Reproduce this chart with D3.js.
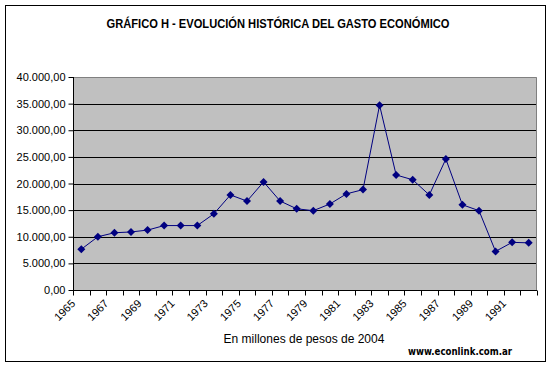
<!DOCTYPE html>
<html><head><meta charset="utf-8">
<script src="https://cdn.jsdelivr.net/npm/d3@7"></script>
<style>body{margin:0;background:#fff}svg{display:block}</style>
</head><body>
<svg id="c" width="553" height="368"></svg>
<script>
const years = d3.range(1965, 1993).map(String);
const values = [7650,10000,10750,10900,11250,12100,12100,12100,14300,17850,16700,20300,16700,15250,14900,16150,18050,18850,34700,21600,20700,17850,24600,16000,14900,7250,8950,8850];
const tickLabels = ["1965","1967","1969","1971","1973","1975","1977","1979","1981","1983","1985","1987","1989","1991"];
const yTicks = [0,5000,10000,15000,20000,25000,30000,35000,40000];
const title = "GRÁFICO H - EVOLUCIÓN HISTÓRICA DEL GASTO ECONÓMICO";
const xTitle = "En millones de pesos de 2004";
const credit = "www.econlink.com.ar";

const svg = d3.select("#c");
const L = 73, R = 537, T = 77, B = 290;
svg.append("rect").attr("x",5.5).attr("y",5.5).attr("width",540).attr("height",356)
  .attr("fill","#fff").attr("stroke","#000").attr("stroke-width",1);

const x = d3.scaleBand().domain(years).range([L,R]);
const y = d3.scaleLinear().domain([0,40000]).range([B,T]);
const fmt = v => d3.format(",.2f")(v).replace(/,/g,"X").replace(/\./g,",").replace(/X/g,".");

svg.append("rect").attr("x",L).attr("y",T).attr("width",R-L).attr("height",B-T).attr("fill","#C0C0C0");
svg.append("path").attr("d",`M${L},${T+0.5}H${R-0.5}V${B}`).attr("fill","none").attr("stroke","#808080");

svg.append("g").selectAll("line").data(yTicks.filter(d=>d>0 && d<40000)).join("line")
  .attr("x1",L).attr("x2",R-1).attr("y1",d=>Math.round(y(d))+0.5).attr("y2",d=>Math.round(y(d))+0.5)
  .attr("stroke","#000");

const ya = svg.append("g").attr("transform",`translate(${L+0.5},0)`)
  .call(d3.axisLeft(y).tickValues(yTicks).tickFormat(fmt).tickSize(5).tickPadding(3));
ya.select(".domain").attr("stroke","#000").attr("d",`M0,${T}V${B}`);
ya.selectAll(".tick line").attr("stroke","#000");
ya.selectAll("text").attr("font-family","Arial, 'Liberation Sans', sans-serif").attr("font-size",11).attr("fill","#000");

const xa = svg.append("g").attr("transform",`translate(0,${B+0.5})`);
xa.append("line").attr("x1",L).attr("x2",R).attr("stroke","#000");
const bounds = years.map(d=>x(d)).concat([R]);
xa.selectAll("line.t").data(bounds).join("line").attr("class","t")
  .attr("x1",d=>Math.round(d)+0.5).attr("x2",d=>Math.round(d)+0.5).attr("y1",0).attr("y2",5).attr("stroke","#000");
xa.selectAll("text").data(tickLabels).join("text")
  .attr("transform",d=>`translate(${x(d)+x.bandwidth()/2-8},${11}) rotate(-45)`)
  .attr("text-anchor","end").attr("dy","0.35em")
  .attr("font-family","Arial, 'Liberation Sans', sans-serif").attr("font-size",11).text(d=>d);

const line = d3.line().x((d,i)=>x(years[i])+x.bandwidth()/2).y(d=>y(d));
svg.append("path").datum(values).attr("d",line).attr("fill","none").attr("stroke","#000080").attr("stroke-width",1);
svg.append("g").selectAll("path").data(values).join("path")
  .attr("transform",(d,i)=>`translate(${x(years[i])+x.bandwidth()/2},${y(d)})`)
  .attr("d","M0,-4L4,0L0,4L-4,0Z").attr("fill","#000080");

svg.append("text").attr("x",278).attr("y",27.5).attr("text-anchor","middle")
  .attr("textLength",343).attr("lengthAdjust","spacingAndGlyphs")
  .attr("font-family","Arial, 'Liberation Sans', sans-serif").attr("font-weight","bold").attr("font-size",13).text(title);
svg.append("text").attr("x",304).attr("y",343).attr("text-anchor","middle")
  .attr("font-family","Arial, 'Liberation Sans', sans-serif").attr("font-size",12).text(xTitle);
svg.append("text").attr("x",460).attr("y",355).attr("text-anchor","middle")
  .attr("textLength",104).attr("lengthAdjust","spacingAndGlyphs")
  .attr("font-family","'DejaVu Sans', sans-serif").attr("font-weight","bold").attr("font-size",10).text(credit);
</script>
</body></html>
